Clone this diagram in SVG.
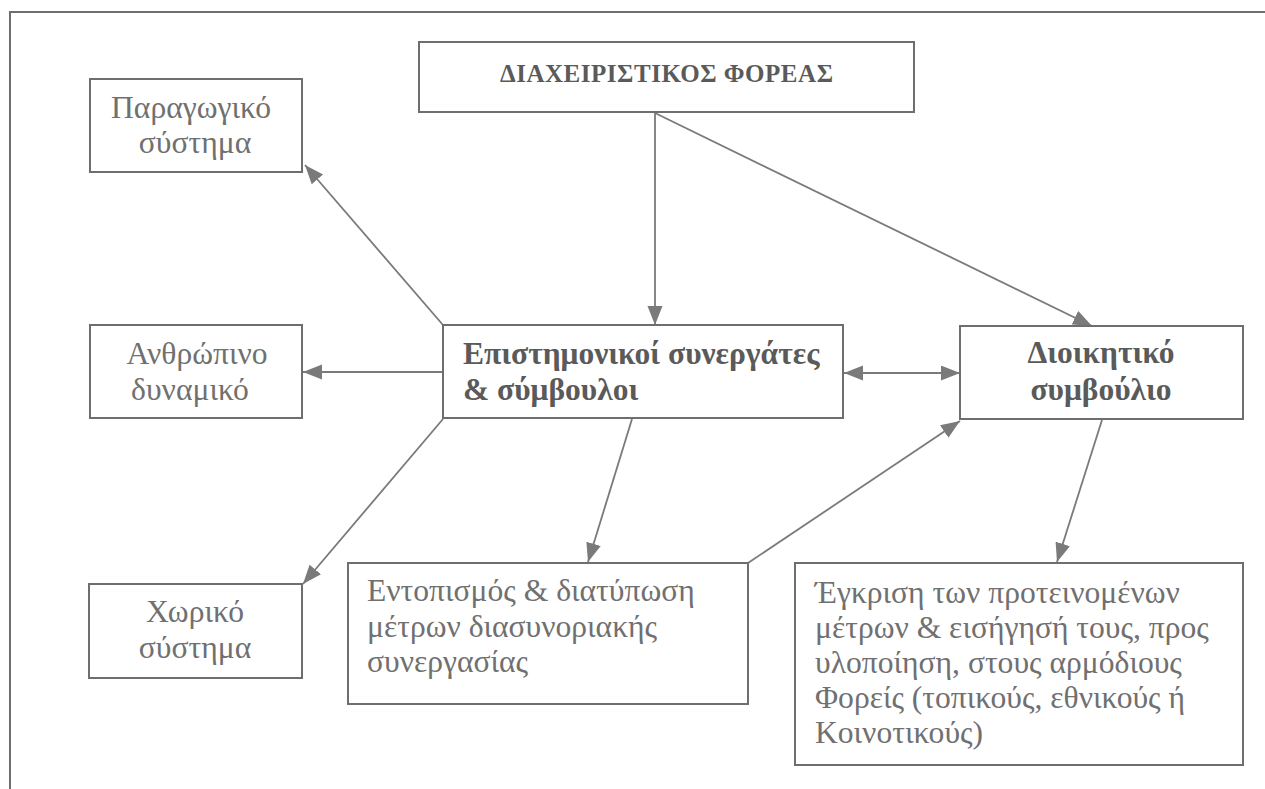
<svg xmlns="http://www.w3.org/2000/svg" width="1265" height="789" viewBox="0 0 1265 789">
<style>
.box{fill:#fff;stroke:#6e6e6e;stroke-width:2}
.t{font-family:"Liberation Serif","Times New Roman",serif;font-size:31.6px;fill:#707070}
.b{font-family:"Liberation Serif","Times New Roman",serif;font-size:31.5px;font-weight:bold;fill:#5a5a5a}
.c{text-anchor:middle}
.ln{stroke:#7a7a7a;stroke-width:1.8;fill:none;marker-end:url(#ah)}
</style>
<defs>
<marker id="ah" markerUnits="userSpaceOnUse" markerWidth="20" markerHeight="16" refX="19" refY="7.5" orient="auto-start-reverse">
<path d="M0,0 L19,7.5 L0,15 z" fill="#7a7a7a"/>
</marker>
</defs>
<rect width="1265" height="789" fill="#fff"/>
<g id="frame" stroke="#6e6e6e" stroke-width="2" fill="none">
<path d="M10,789 L10,12 L1265,12"/>
</g>
<g id="connectors">
<line class="ln" x1="655" y1="112" x2="655" y2="325"/>
<line class="ln" x1="655" y1="113" x2="1092" y2="326"/>
<line class="ln" x1="443" y1="325" x2="305" y2="165"/>
<line class="ln" x1="443" y1="372" x2="303" y2="372"/>
<line class="ln" x1="443" y1="419" x2="303" y2="584"/>
<line class="ln" x1="632" y1="419" x2="588" y2="562"/>
<line class="ln" style="marker-start:url(#ah)" x1="844" y1="373" x2="960" y2="373"/>
<line class="ln" x1="748" y1="563" x2="960" y2="421"/>
<line class="ln" x1="1102" y1="420" x2="1057" y2="562"/>
</g>
<g id="n-foreas">
<rect class="box" x="419" y="42" width="495" height="70"/>
<text class="b" x="500" y="82" style="font-size:25px" textLength="333">ΔΙΑΧΕΙΡΙΣΤΙΚΟΣ ΦΟΡΕΑΣ</text>
</g>
<g id="n-paragogiko">
<rect class="box" x="90" y="79" width="212" height="93"/>
<text class="t c" x="191" y="118">Παραγωγικό</text>
<text class="t c" x="195" y="153">σύστημα</text>
</g>
<g id="n-anthropino">
<rect class="box" x="90" y="325" width="212" height="93"/>
<text class="t c" x="197" y="364">Ανθρώπινο</text>
<text class="t c" x="190" y="400">δυναμικό</text>
</g>
<g id="n-choriko">
<rect class="box" x="89" y="584" width="213" height="94"/>
<text class="t c" x="195" y="622">Χωρικό</text>
<text class="t c" x="195" y="658">σύστημα</text>
</g>
<g id="n-epistimonikoi">
<rect class="box" x="443" y="325" width="400" height="93"/>
<text class="b" x="463" y="364">Επιστημονικοί συνεργάτες</text>
<text class="b" x="463" y="400">&amp; σύμβουλοι</text>
</g>
<g id="n-dioikitiko">
<rect class="box" x="960" y="326" width="283" height="93"/>
<text class="b c" x="1101" y="363">Διοικητικό</text>
<text class="b c" x="1101" y="400">συμβούλιο</text>
</g>
<g id="n-entopismos">
<rect class="box" x="348" y="563" width="400" height="141"/>
<text class="t" x="367" y="601">Εντοπισμός &amp; διατύπωση</text>
<text class="t" x="367" y="637">μέτρων διασυνοριακής</text>
<text class="t" x="367" y="672">συνεργασίας</text>
</g>
<g id="n-egkrisi">
<rect class="box" x="795" y="563" width="448" height="202"/>
<text class="t" x="815" y="603">Έγκριση των προτεινομένων</text>
<text class="t" x="815" y="638">μέτρων &amp; εισήγησή τους, προς</text>
<text class="t" x="815" y="673">υλοποίηση, στους αρμόδιους</text>
<text class="t" x="815" y="708">Φορείς (τοπικούς, εθνικούς ή</text>
<text class="t" x="815" y="743">Κοινοτικούς)</text>
</g>
</svg>
